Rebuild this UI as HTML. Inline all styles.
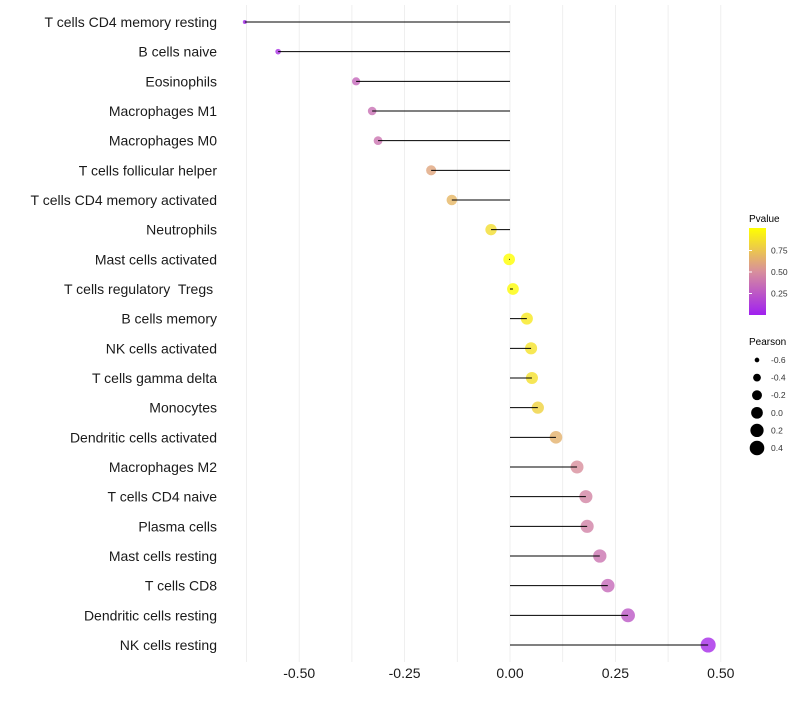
<!DOCTYPE html>
<html><head><meta charset="utf-8"><style>
body{margin:0;background:#fff;font-family:"Liberation Sans",sans-serif}
svg text{font-family:"Liberation Sans",sans-serif;white-space:pre}
</style></head><body>
<svg id="chart" width="800" height="700" xmlns="http://www.w3.org/2000/svg">
<defs><linearGradient id="pg" x1="0" y1="1" x2="0" y2="0">
<stop offset="0" stop-color="#a020f0"/><stop offset="0.5" stop-color="#d88f9c"/><stop offset="1" stop-color="#ffff00"/></linearGradient></defs>
<g id="grid"></g>
<g id="points"></g>
<g id="marks"></g>
<g id="ylabels"></g>
<g id="xticks"></g>
<g>
<text x="749" y="222" font-size="10">Pvalue</text>
<rect x="749" y="228" width="17" height="87" fill="url(#pg)"/>
<g id="cbticks"></g>
</g>
<g id="sizeleg">
<text x="749" y="345" font-size="10">Pearson</text>
</g>
</svg>
<script>
const categories=["T cells CD4 memory resting","B cells naive","Eosinophils","Macrophages M1","Macrophages M0","T cells follicular helper","T cells CD4 memory activated","Neutrophils","Mast cells activated","T cells regulatory  Tregs ","B cells memory","NK cells activated","T cells gamma delta","Monocytes","Dendritic cells activated","Macrophages M2","T cells CD4 naive","Plasma cells","Mast cells resting","T cells CD8","Dendritic cells resting","NK cells resting"];
const pearson=[-0.629,-0.55,-0.365,-0.327,-0.313,-0.187,-0.138,-0.045,-0.002,0.007,0.04,0.05,0.052,0.066,0.109,0.159,0.18,0.183,0.213,0.232,0.28,0.47];
const pvalue=[0.03,0.08,0.32,0.36,0.38,0.6,0.68,0.85,1.0,0.98,0.9,0.87,0.86,0.8,0.65,0.5,0.45,0.44,0.38,0.33,0.25,0.05];
const xTicks=[-0.5,-0.25,0,0.25,0.5];
const xTickLabels=["-0.50","-0.25","0.00","0.25","0.50"];
const pTicks=[0.25,0.5,0.75];
const pTickLabels=["0.25","0.50","0.75"];
const sizeLegend=[-0.6,-0.4,-0.2,0.0,0.2,0.4];
const sizeLegendLabels=["-0.6","-0.4","-0.2","0.0","0.2","0.4"];
const NS="http://www.w3.org/2000/svg";
const X=v=>510+v*421.6;
const Y=i=>22+i*(623/(categories.length-1));
const R=v=>Math.sqrt(Math.max(2,4+(v+0.63)*48));
function col(p){const a=[160,32,240],m=[216,143,156],b=[255,255,0];let c;
 if(p<0.5){const t=p/0.5;c=a.map((v,k)=>v+(m[k]-v)*t);}else{const t=(p-0.5)/0.5;c=m.map((v,k)=>v+(b[k]-v)*t);}
 return `rgb(${c.map(Math.round).join(',')})`;}
function mk(tag,at,parent){const e=document.createElementNS(NS,tag);for(const k in at)e.setAttribute(k,at[k]);parent.appendChild(e);return e;}
const grid=document.getElementById('grid');
for(let v=-0.625;v<=0.501;v+=0.125){const l=mk('line',{x1:X(v),x2:X(v),y1:5,y2:662,stroke:'#ebebeb','stroke-width':0.8},grid);

}
const marks=document.getElementById('marks'),pts=document.getElementById('points'),yl=document.getElementById('ylabels');
categories.forEach((c,i)=>{
 const p=mk('circle',{cx:X(pearson[i]),cy:Y(i),r:R(pearson[i]),fill:col(pvalue[i]),'fill-opacity':0.8},pts);
 
 
 const l=mk('line',{x1:X(0),x2:X(pearson[i]),y1:Y(i),y2:Y(i),stroke:'#000','stroke-width':1},marks);
 
 
 const t=mk('text',{x:217,y:Y(i)+5,'text-anchor':'end','font-size':14,fill:'#1a1a1a'},yl);t.textContent=c;
 
 
});
const xt=document.getElementById('xticks');
xTicks.forEach((v,i)=>{const t=mk('text',{x:X(v),y:678,'text-anchor':'middle','font-size':14,fill:'#1a1a1a'},xt);t.textContent=xTickLabels[i];
 
 });
const cb=document.getElementById('cbticks');
pTicks.forEach((v,i)=>{const y=315-v*86;
 const l=mk('line',{x1:749,x2:752,y1:y,y2:y,stroke:'#fff'},cb);
 
 
 const t=mk('text',{x:771,y:y+3,'font-size':8.5,fill:'#333'},cb);t.textContent=pTickLabels[i];
 
 });
const sl=document.getElementById('sizeleg');
sizeLegend.forEach((v,i)=>{const y=360+i*17.6;
 const c=mk('circle',{cx:757,cy:y,r:R(v),fill:'#000'},sl);
 
 
 const t=mk('text',{x:771,y:y+3,'font-size':8.5,fill:'#333'},sl);t.textContent=sizeLegendLabels[i];
 
 });
</script>
</body></html>
